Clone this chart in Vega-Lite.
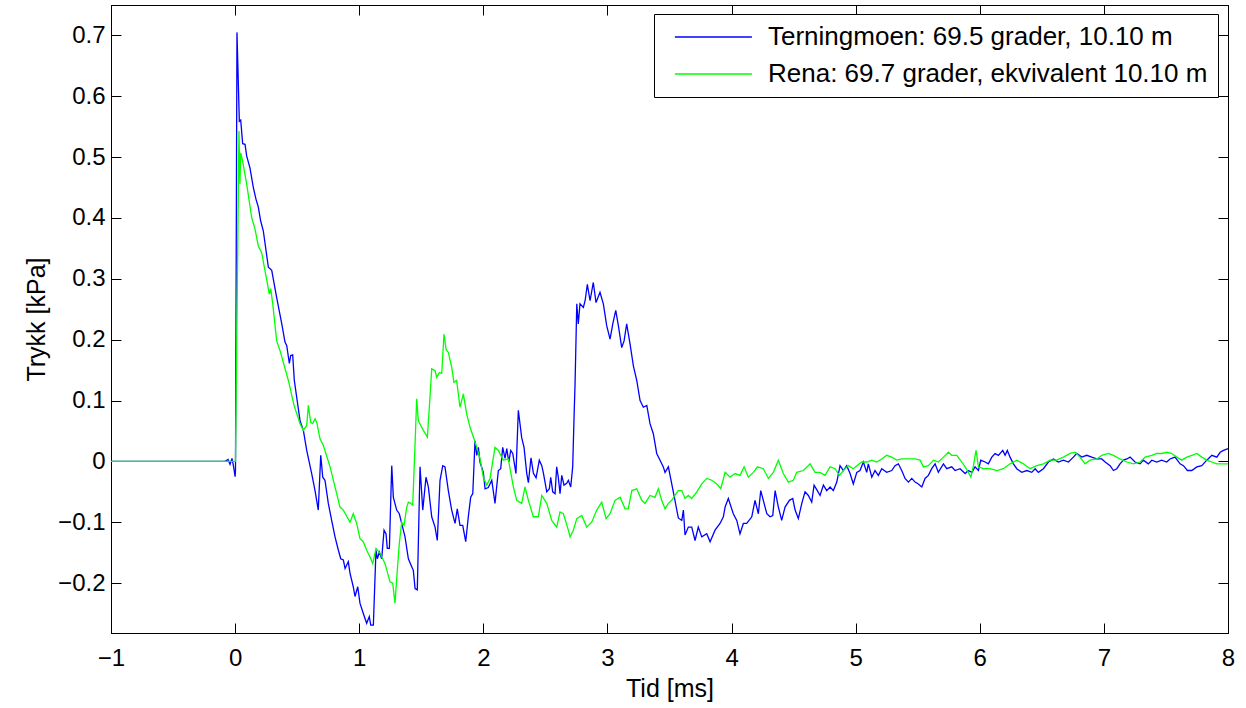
{
"$schema":"https://vega.github.io/schema/vega-lite/v6.json",
"width":1117,"height":628,
"autosize":{"type":"none"},
"padding":{"left":111,"top":5,"right":18,"bottom":75},
"background":"white",
"config":{"view":{"stroke":"black","strokeWidth":1},
"font":"Liberation Sans",
"axis":{"grid":false,"domainColor":"black","tickColor":"black","labelColor":"black","titleColor":"black","labelFont":"Liberation Sans","titleFont":"Liberation Sans","labelFontSize":24,"titleFontSize":25,"titleFontWeight":"normal","tickSize":-10,"domainWidth":1,"tickWidth":1}},
"datasets":{"d":[
{"t":-1,"p":0,"s":"T"},{"t":-0.081,"p":0,"s":"T"},{"t":-0.057,"p":0.003,"s":"T"},{"t":-0.041,"p":-0.005,"s":"T"},{"t":-0.025,"p":0.005,"s":"T"},{"t":-0.013,"p":-0.008,"s":"T"},{"t":0,"p":-0.025,"s":"T"},{"t":0.003,"p":-0.015,"s":"T"},{"t":0.015,"p":0.705,"s":"T"},{"t":0.034,"p":0.559,"s":"T"},{"t":0.045,"p":0.561,"s":"T"},{"t":0.061,"p":0.522,"s":"T"},{"t":0.08,"p":0.521,"s":"T"},{"t":0.093,"p":0.502,"s":"T"},{"t":0.12,"p":0.482,"s":"T"},{"t":0.147,"p":0.45,"s":"T"},{"t":0.168,"p":0.431,"s":"T"},{"t":0.187,"p":0.418,"s":"T"},{"t":0.206,"p":0.395,"s":"T"},{"t":0.227,"p":0.379,"s":"T"},{"t":0.268,"p":0.319,"s":"T"},{"t":0.295,"p":0.314,"s":"T"},{"t":0.335,"p":0.269,"s":"T"},{"t":0.376,"p":0.226,"s":"T"},{"t":0.402,"p":0.196,"s":"T"},{"t":0.416,"p":0.19,"s":"T"},{"t":0.437,"p":0.161,"s":"T"},{"t":0.448,"p":0.174,"s":"T"},{"t":0.464,"p":0.175,"s":"T"},{"t":0.477,"p":0.133,"s":"T"},{"t":0.523,"p":0.067,"s":"T"},{"t":0.55,"p":0.051,"s":"T"},{"t":0.577,"p":0.018,"s":"T"},{"t":0.617,"p":-0.02,"s":"T"},{"t":0.644,"p":-0.048,"s":"T"},{"t":0.67,"p":-0.08,"s":"T"},{"t":0.69,"p":0.01,"s":"T"},{"t":0.706,"p":-0.026,"s":"T"},{"t":0.724,"p":-0.031,"s":"T"},{"t":0.751,"p":-0.069,"s":"T"},{"t":0.778,"p":-0.097,"s":"T"},{"t":0.805,"p":-0.124,"s":"T"},{"t":0.832,"p":-0.146,"s":"T"},{"t":0.851,"p":-0.16,"s":"T"},{"t":0.872,"p":-0.162,"s":"T"},{"t":0.886,"p":-0.176,"s":"T"},{"t":0.912,"p":-0.165,"s":"T"},{"t":0.926,"p":-0.184,"s":"T"},{"t":0.952,"p":-0.206,"s":"T"},{"t":0.966,"p":-0.222,"s":"T"},{"t":0.988,"p":-0.206,"s":"T"},{"t":1.006,"p":-0.233,"s":"T"},{"t":1.033,"p":-0.25,"s":"T"},{"t":1.06,"p":-0.266,"s":"T"},{"t":1.081,"p":-0.255,"s":"T"},{"t":1.093,"p":-0.269,"s":"T"},{"t":1.114,"p":-0.269,"s":"T"},{"t":1.135,"p":-0.146,"s":"T"},{"t":1.146,"p":-0.16,"s":"T"},{"t":1.162,"p":-0.149,"s":"T"},{"t":1.181,"p":-0.16,"s":"T"},{"t":1.2,"p":-0.113,"s":"T"},{"t":1.216,"p":-0.119,"s":"T"},{"t":1.226,"p":-0.143,"s":"T"},{"t":1.243,"p":-0.143,"s":"T"},{"t":1.262,"p":-0.007,"s":"T"},{"t":1.275,"p":-0.059,"s":"T"},{"t":1.302,"p":-0.08,"s":"T"},{"t":1.323,"p":-0.086,"s":"T"},{"t":1.342,"p":-0.102,"s":"T"},{"t":1.369,"p":-0.124,"s":"T"},{"t":1.396,"p":-0.16,"s":"T"},{"t":1.423,"p":-0.173,"s":"T"},{"t":1.436,"p":-0.179,"s":"T"},{"t":1.45,"p":-0.209,"s":"T"},{"t":1.468,"p":-0.211,"s":"T"},{"t":1.49,"p":-0.009,"s":"T"},{"t":1.512,"p":-0.08,"s":"T"},{"t":1.538,"p":-0.026,"s":"T"},{"t":1.557,"p":-0.042,"s":"T"},{"t":1.584,"p":-0.091,"s":"T"},{"t":1.611,"p":-0.108,"s":"T"},{"t":1.629,"p":-0.13,"s":"T"},{"t":1.651,"p":-0.031,"s":"T"},{"t":1.673,"p":-0.007,"s":"T"},{"t":1.691,"p":-0.009,"s":"T"},{"t":1.718,"p":-0.048,"s":"T"},{"t":1.745,"p":-0.08,"s":"T"},{"t":1.772,"p":-0.102,"s":"T"},{"t":1.79,"p":-0.078,"s":"T"},{"t":1.812,"p":-0.105,"s":"T"},{"t":1.834,"p":-0.105,"s":"T"},{"t":1.858,"p":-0.132,"s":"T"},{"t":1.879,"p":-0.091,"s":"T"},{"t":1.898,"p":-0.059,"s":"T"},{"t":1.915,"p":-0.053,"s":"T"},{"t":1.933,"p":0.034,"s":"T"},{"t":1.947,"p":0.01,"s":"T"},{"t":1.96,"p":0.023,"s":"T"},{"t":1.973,"p":-0.001,"s":"T"},{"t":2.0,"p":-0.018,"s":"T"},{"t":2.014,"p":-0.045,"s":"T"},{"t":2.04,"p":-0.043,"s":"T"},{"t":2.068,"p":-0.031,"s":"T"},{"t":2.094,"p":-0.069,"s":"T"},{"t":2.121,"p":-0.015,"s":"T"},{"t":2.14,"p":-0.012,"s":"T"},{"t":2.156,"p":0.023,"s":"T"},{"t":2.175,"p":0.005,"s":"T"},{"t":2.189,"p":0.021,"s":"T"},{"t":2.205,"p":-0.001,"s":"T"},{"t":2.221,"p":0.018,"s":"T"},{"t":2.237,"p":0.013,"s":"T"},{"t":2.263,"p":-0.02,"s":"T"},{"t":2.282,"p":0.084,"s":"T"},{"t":2.309,"p":0.039,"s":"T"},{"t":2.328,"p":0.023,"s":"T"},{"t":2.35,"p":-0.02,"s":"T"},{"t":2.363,"p":-0.035,"s":"T"},{"t":2.384,"p":0.006,"s":"T"},{"t":2.403,"p":-0.019,"s":"T"},{"t":2.425,"p":-0.027,"s":"T"},{"t":2.451,"p":0.002,"s":"T"},{"t":2.471,"p":-0.007,"s":"T"},{"t":2.483,"p":-0.018,"s":"T"},{"t":2.511,"p":-0.05,"s":"T"},{"t":2.532,"p":-0.045,"s":"T"},{"t":2.543,"p":-0.026,"s":"T"},{"t":2.559,"p":-0.05,"s":"T"},{"t":2.578,"p":-0.053,"s":"T"},{"t":2.591,"p":-0.009,"s":"T"},{"t":2.604,"p":-0.026,"s":"T"},{"t":2.618,"p":-0.053,"s":"T"},{"t":2.632,"p":-0.023,"s":"T"},{"t":2.65,"p":-0.039,"s":"T"},{"t":2.672,"p":-0.036,"s":"T"},{"t":2.685,"p":-0.031,"s":"T"},{"t":2.704,"p":-0.042,"s":"T"},{"t":2.72,"p":-0.009,"s":"T"},{"t":2.731,"p":0.073,"s":"T"},{"t":2.739,"p":0.127,"s":"T"},{"t":2.753,"p":0.259,"s":"T"},{"t":2.765,"p":0.226,"s":"T"},{"t":2.779,"p":0.259,"s":"T"},{"t":2.806,"p":0.253,"s":"T"},{"t":2.82,"p":0.264,"s":"T"},{"t":2.838,"p":0.291,"s":"T"},{"t":2.86,"p":0.264,"s":"T"},{"t":2.886,"p":0.294,"s":"T"},{"t":2.908,"p":0.261,"s":"T"},{"t":2.94,"p":0.278,"s":"T"},{"t":2.967,"p":0.259,"s":"T"},{"t":2.994,"p":0.223,"s":"T"},{"t":3.021,"p":0.201,"s":"T"},{"t":3.043,"p":0.226,"s":"T"},{"t":3.067,"p":0.248,"s":"T"},{"t":3.088,"p":0.223,"s":"T"},{"t":3.115,"p":0.187,"s":"T"},{"t":3.134,"p":0.198,"s":"T"},{"t":3.155,"p":0.226,"s":"T"},{"t":3.182,"p":0.193,"s":"T"},{"t":3.209,"p":0.157,"s":"T"},{"t":3.236,"p":0.133,"s":"T"},{"t":3.263,"p":0.1,"s":"T"},{"t":3.289,"p":0.089,"s":"T"},{"t":3.317,"p":0.092,"s":"T"},{"t":3.343,"p":0.062,"s":"T"},{"t":3.37,"p":0.045,"s":"T"},{"t":3.397,"p":0.013,"s":"T"},{"t":3.424,"p":0.002,"s":"T"},{"t":3.45,"p":-0.009,"s":"T"},{"t":3.464,"p":-0.018,"s":"T"},{"t":3.491,"p":-0.009,"s":"T"},{"t":3.518,"p":-0.037,"s":"T"},{"t":3.544,"p":-0.064,"s":"T"},{"t":3.571,"p":-0.093,"s":"T"},{"t":3.599,"p":-0.097,"s":"T"},{"t":3.612,"p":-0.08,"s":"T"},{"t":3.625,"p":-0.121,"s":"T"},{"t":3.652,"p":-0.108,"s":"T"},{"t":3.679,"p":-0.108,"s":"T"},{"t":3.706,"p":-0.13,"s":"T"},{"t":3.732,"p":-0.108,"s":"T"},{"t":3.76,"p":-0.124,"s":"T"},{"t":3.8,"p":-0.119,"s":"T"},{"t":3.827,"p":-0.132,"s":"T"},{"t":3.867,"p":-0.113,"s":"T"},{"t":3.907,"p":-0.102,"s":"T"},{"t":3.934,"p":-0.091,"s":"T"},{"t":3.948,"p":-0.075,"s":"T"},{"t":3.974,"p":-0.061,"s":"T"},{"t":4.014,"p":-0.086,"s":"T"},{"t":4.042,"p":-0.097,"s":"T"},{"t":4.068,"p":-0.119,"s":"T"},{"t":4.095,"p":-0.102,"s":"T"},{"t":4.122,"p":-0.102,"s":"T"},{"t":4.163,"p":-0.091,"s":"T"},{"t":4.189,"p":-0.064,"s":"T"},{"t":4.216,"p":-0.086,"s":"T"},{"t":4.235,"p":-0.048,"s":"T"},{"t":4.256,"p":-0.064,"s":"T"},{"t":4.284,"p":-0.086,"s":"T"},{"t":4.31,"p":-0.091,"s":"T"},{"t":4.332,"p":-0.089,"s":"T"},{"t":4.351,"p":-0.048,"s":"T"},{"t":4.377,"p":-0.075,"s":"T"},{"t":4.404,"p":-0.097,"s":"T"},{"t":4.431,"p":-0.075,"s":"T"},{"t":4.466,"p":-0.064,"s":"T"},{"t":4.493,"p":-0.061,"s":"T"},{"t":4.512,"p":-0.08,"s":"T"},{"t":4.538,"p":-0.094,"s":"T"},{"t":4.566,"p":-0.069,"s":"T"},{"t":4.592,"p":-0.05,"s":"T"},{"t":4.619,"p":-0.056,"s":"T"},{"t":4.646,"p":-0.067,"s":"T"},{"t":4.665,"p":-0.039,"s":"T"},{"t":4.691,"p":-0.048,"s":"T"},{"t":4.713,"p":-0.056,"s":"T"},{"t":4.74,"p":-0.039,"s":"T"},{"t":4.767,"p":-0.048,"s":"T"},{"t":4.794,"p":-0.042,"s":"T"},{"t":4.82,"p":-0.048,"s":"T"},{"t":4.848,"p":-0.034,"s":"T"},{"t":4.874,"p":-0.007,"s":"T"},{"t":4.901,"p":-0.015,"s":"T"},{"t":4.928,"p":-0.007,"s":"T"},{"t":4.955,"p":-0.02,"s":"T"},{"t":4.981,"p":-0.037,"s":"T"},{"t":5.009,"p":-0.018,"s":"T"},{"t":5.035,"p":-0.015,"s":"T"},{"t":5.062,"p":-0.001,"s":"T"},{"t":5.089,"p":-0.018,"s":"T"},{"t":5.102,"p":-0.004,"s":"T"},{"t":5.13,"p":-0.026,"s":"T"},{"t":5.156,"p":-0.015,"s":"T"},{"t":5.183,"p":-0.023,"s":"T"},{"t":5.21,"p":-0.012,"s":"T"},{"t":5.25,"p":-0.018,"s":"T"},{"t":5.291,"p":-0.015,"s":"T"},{"t":5.317,"p":-0.007,"s":"T"},{"t":5.344,"p":-0.004,"s":"T"},{"t":5.371,"p":-0.015,"s":"T"},{"t":5.398,"p":-0.028,"s":"T"},{"t":5.425,"p":-0.034,"s":"T"},{"t":5.452,"p":-0.028,"s":"T"},{"t":5.479,"p":-0.034,"s":"T"},{"t":5.505,"p":-0.037,"s":"T"},{"t":5.533,"p":-0.042,"s":"T"},{"t":5.559,"p":-0.028,"s":"T"},{"t":5.586,"p":-0.023,"s":"T"},{"t":5.613,"p":-0.012,"s":"T"},{"t":5.64,"p":-0.004,"s":"T"},{"t":5.666,"p":-0.018,"s":"T"},{"t":5.707,"p":-0.004,"s":"T"},{"t":5.734,"p":-0.012,"s":"T"},{"t":5.774,"p":-0.009,"s":"T"},{"t":5.801,"p":-0.015,"s":"T"},{"t":5.841,"p":-0.012,"s":"T"},{"t":5.882,"p":-0.02,"s":"T"},{"t":5.908,"p":-0.015,"s":"T"},{"t":5.936,"p":-0.018,"s":"T"},{"t":5.962,"p":-0.009,"s":"T"},{"t":5.989,"p":-0.015,"s":"T"},{"t":6.008,"p":0.002,"s":"T"},{"t":6.043,"p":-0.001,"s":"T"},{"t":6.069,"p":-0.004,"s":"T"},{"t":6.097,"p":0.007,"s":"T"},{"t":6.123,"p":0.013,"s":"T"},{"t":6.15,"p":0.01,"s":"T"},{"t":6.185,"p":0.018,"s":"T"},{"t":6.204,"p":0.01,"s":"T"},{"t":6.222,"p":0.018,"s":"T"},{"t":6.244,"p":0.007,"s":"T"},{"t":6.271,"p":-0.004,"s":"T"},{"t":6.298,"p":-0.012,"s":"T"},{"t":6.338,"p":-0.018,"s":"T"},{"t":6.379,"p":-0.015,"s":"T"},{"t":6.419,"p":-0.018,"s":"T"},{"t":6.446,"p":-0.012,"s":"T"},{"t":6.472,"p":-0.018,"s":"T"},{"t":6.513,"p":-0.012,"s":"T"},{"t":6.553,"p":-0.001,"s":"T"},{"t":6.593,"p":0.004,"s":"T"},{"t":6.633,"p":-0.001,"s":"T"},{"t":6.674,"p":0.002,"s":"T"},{"t":6.714,"p":-0.001,"s":"T"},{"t":6.754,"p":0.007,"s":"T"},{"t":6.781,"p":0.013,"s":"T"},{"t":6.822,"p":0.007,"s":"T"},{"t":6.862,"p":0.01,"s":"T"},{"t":6.902,"p":0.007,"s":"T"},{"t":6.943,"p":0.004,"s":"T"},{"t":6.983,"p":0.004,"s":"T"},{"t":7.01,"p":-0.001,"s":"T"},{"t":7.05,"p":-0.007,"s":"T"},{"t":7.077,"p":-0.015,"s":"T"},{"t":7.104,"p":-0.012,"s":"T"},{"t":7.13,"p":-0.004,"s":"T"},{"t":7.157,"p":0.002,"s":"T"},{"t":7.185,"p":0.004,"s":"T"},{"t":7.211,"p":0.007,"s":"T"},{"t":7.251,"p":-0.001,"s":"T"},{"t":7.292,"p":-0.004,"s":"T"},{"t":7.318,"p":0.002,"s":"T"},{"t":7.358,"p":-0.004,"s":"T"},{"t":7.386,"p":0.002,"s":"T"},{"t":7.426,"p":-0.001,"s":"T"},{"t":7.466,"p":0.002,"s":"T"},{"t":7.506,"p":-0.001,"s":"T"},{"t":7.533,"p":0.004,"s":"T"},{"t":7.573,"p":0.007,"s":"T"},{"t":7.614,"p":-0.004,"s":"T"},{"t":7.641,"p":-0.007,"s":"T"},{"t":7.673,"p":-0.015,"s":"T"},{"t":7.708,"p":-0.015,"s":"T"},{"t":7.749,"p":-0.009,"s":"T"},{"t":7.789,"p":-0.007,"s":"T"},{"t":7.829,"p":0.002,"s":"T"},{"t":7.87,"p":0.01,"s":"T"},{"t":7.91,"p":0.007,"s":"T"},{"t":7.937,"p":0.015,"s":"T"},{"t":7.964,"p":0.018,"s":"T"},{"t":8.0,"p":0.021,"s":"T"},
{"t":-1,"p":0,"s":"R"},{"t":-0.009,"p":0,"s":"R"},{"t":0.003,"p":0,"s":"R"},{"t":0.031,"p":0.543,"s":"R"},{"t":0.039,"p":0.456,"s":"R"},{"t":0.045,"p":0.507,"s":"R"},{"t":0.061,"p":0.493,"s":"R"},{"t":0.093,"p":0.456,"s":"R"},{"t":0.134,"p":0.4,"s":"R"},{"t":0.16,"p":0.382,"s":"R"},{"t":0.187,"p":0.354,"s":"R"},{"t":0.214,"p":0.343,"s":"R"},{"t":0.241,"p":0.313,"s":"R"},{"t":0.276,"p":0.275,"s":"R"},{"t":0.287,"p":0.284,"s":"R"},{"t":0.303,"p":0.259,"s":"R"},{"t":0.335,"p":0.198,"s":"R"},{"t":0.362,"p":0.182,"s":"R"},{"t":0.429,"p":0.133,"s":"R"},{"t":0.475,"p":0.092,"s":"R"},{"t":0.523,"p":0.062,"s":"R"},{"t":0.55,"p":0.051,"s":"R"},{"t":0.577,"p":0.059,"s":"R"},{"t":0.59,"p":0.092,"s":"R"},{"t":0.609,"p":0.064,"s":"R"},{"t":0.625,"p":0.062,"s":"R"},{"t":0.644,"p":0.07,"s":"R"},{"t":0.658,"p":0.064,"s":"R"},{"t":0.684,"p":0.037,"s":"R"},{"t":0.711,"p":0.026,"s":"R"},{"t":0.765,"p":-0.009,"s":"R"},{"t":0.805,"p":-0.042,"s":"R"},{"t":0.845,"p":-0.075,"s":"R"},{"t":0.872,"p":-0.08,"s":"R"},{"t":0.926,"p":-0.1,"s":"R"},{"t":0.952,"p":-0.086,"s":"R"},{"t":0.98,"p":-0.102,"s":"R"},{"t":1.006,"p":-0.127,"s":"R"},{"t":1.033,"p":-0.132,"s":"R"},{"t":1.06,"p":-0.146,"s":"R"},{"t":1.087,"p":-0.157,"s":"R"},{"t":1.109,"p":-0.168,"s":"R"},{"t":1.135,"p":-0.143,"s":"R"},{"t":1.168,"p":-0.151,"s":"R"},{"t":1.208,"p":-0.168,"s":"R"},{"t":1.248,"p":-0.198,"s":"R"},{"t":1.27,"p":-0.2,"s":"R"},{"t":1.288,"p":-0.233,"s":"R"},{"t":1.307,"p":-0.179,"s":"R"},{"t":1.323,"p":-0.135,"s":"R"},{"t":1.342,"p":-0.1,"s":"R"},{"t":1.361,"p":-0.105,"s":"R"},{"t":1.383,"p":-0.075,"s":"R"},{"t":1.396,"p":-0.067,"s":"R"},{"t":1.415,"p":-0.069,"s":"R"},{"t":1.431,"p":-0.072,"s":"R"},{"t":1.45,"p":0.029,"s":"R"},{"t":1.463,"p":0.103,"s":"R"},{"t":1.476,"p":0.067,"s":"R"},{"t":1.496,"p":0.059,"s":"R"},{"t":1.517,"p":0.051,"s":"R"},{"t":1.549,"p":0.04,"s":"R"},{"t":1.57,"p":0.105,"s":"R"},{"t":1.584,"p":0.152,"s":"R"},{"t":1.611,"p":0.149,"s":"R"},{"t":1.625,"p":0.138,"s":"R"},{"t":1.646,"p":0.146,"s":"R"},{"t":1.665,"p":0.145,"s":"R"},{"t":1.683,"p":0.209,"s":"R"},{"t":1.7,"p":0.184,"s":"R"},{"t":1.718,"p":0.179,"s":"R"},{"t":1.745,"p":0.155,"s":"R"},{"t":1.763,"p":0.13,"s":"R"},{"t":1.785,"p":0.133,"s":"R"},{"t":1.812,"p":0.089,"s":"R"},{"t":1.839,"p":0.111,"s":"R"},{"t":1.866,"p":0.078,"s":"R"},{"t":1.893,"p":0.056,"s":"R"},{"t":1.92,"p":0.04,"s":"R"},{"t":1.947,"p":0.023,"s":"R"},{"t":1.973,"p":0.005,"s":"R"},{"t":2.0,"p":-0.026,"s":"R"},{"t":2.027,"p":-0.039,"s":"R"},{"t":2.054,"p":-0.028,"s":"R"},{"t":2.094,"p":0.023,"s":"R"},{"t":2.121,"p":0.018,"s":"R"},{"t":2.161,"p":0.002,"s":"R"},{"t":2.201,"p":0.004,"s":"R"},{"t":2.242,"p":-0.042,"s":"R"},{"t":2.269,"p":-0.064,"s":"R"},{"t":2.309,"p":-0.069,"s":"R"},{"t":2.336,"p":-0.042,"s":"R"},{"t":2.363,"p":-0.064,"s":"R"},{"t":2.403,"p":-0.091,"s":"R"},{"t":2.443,"p":-0.091,"s":"R"},{"t":2.471,"p":-0.056,"s":"R"},{"t":2.511,"p":-0.069,"s":"R"},{"t":2.551,"p":-0.097,"s":"R"},{"t":2.591,"p":-0.108,"s":"R"},{"t":2.618,"p":-0.083,"s":"R"},{"t":2.645,"p":-0.086,"s":"R"},{"t":2.685,"p":-0.113,"s":"R"},{"t":2.699,"p":-0.124,"s":"R"},{"t":2.725,"p":-0.113,"s":"R"},{"t":2.753,"p":-0.094,"s":"R"},{"t":2.793,"p":-0.089,"s":"R"},{"t":2.833,"p":-0.108,"s":"R"},{"t":2.873,"p":-0.1,"s":"R"},{"t":2.914,"p":-0.08,"s":"R"},{"t":2.954,"p":-0.067,"s":"R"},{"t":2.989,"p":-0.094,"s":"R"},{"t":3.021,"p":-0.086,"s":"R"},{"t":3.061,"p":-0.064,"s":"R"},{"t":3.102,"p":-0.059,"s":"R"},{"t":3.142,"p":-0.078,"s":"R"},{"t":3.168,"p":-0.078,"s":"R"},{"t":3.196,"p":-0.048,"s":"R"},{"t":3.236,"p":-0.045,"s":"R"},{"t":3.276,"p":-0.064,"s":"R"},{"t":3.303,"p":-0.069,"s":"R"},{"t":3.343,"p":-0.056,"s":"R"},{"t":3.383,"p":-0.059,"s":"R"},{"t":3.41,"p":-0.045,"s":"R"},{"t":3.437,"p":-0.064,"s":"R"},{"t":3.464,"p":-0.078,"s":"R"},{"t":3.491,"p":-0.069,"s":"R"},{"t":3.518,"p":-0.064,"s":"R"},{"t":3.544,"p":-0.056,"s":"R"},{"t":3.571,"p":-0.048,"s":"R"},{"t":3.599,"p":-0.048,"s":"R"},{"t":3.625,"p":-0.061,"s":"R"},{"t":3.652,"p":-0.056,"s":"R"},{"t":3.679,"p":-0.061,"s":"R"},{"t":3.72,"p":-0.05,"s":"R"},{"t":3.76,"p":-0.037,"s":"R"},{"t":3.8,"p":-0.028,"s":"R"},{"t":3.84,"p":-0.031,"s":"R"},{"t":3.881,"p":-0.037,"s":"R"},{"t":3.913,"p":-0.045,"s":"R"},{"t":3.948,"p":-0.018,"s":"R"},{"t":3.988,"p":-0.026,"s":"R"},{"t":4.028,"p":-0.02,"s":"R"},{"t":4.068,"p":-0.023,"s":"R"},{"t":4.101,"p":-0.009,"s":"R"},{"t":4.135,"p":-0.026,"s":"R"},{"t":4.176,"p":-0.018,"s":"R"},{"t":4.208,"p":-0.009,"s":"R"},{"t":4.256,"p":-0.012,"s":"R"},{"t":4.297,"p":-0.028,"s":"R"},{"t":4.337,"p":-0.018,"s":"R"},{"t":4.377,"p":0.002,"s":"R"},{"t":4.417,"p":-0.02,"s":"R"},{"t":4.458,"p":-0.034,"s":"R"},{"t":4.498,"p":-0.031,"s":"R"},{"t":4.525,"p":-0.018,"s":"R"},{"t":4.579,"p":-0.015,"s":"R"},{"t":4.633,"p":-0.004,"s":"R"},{"t":4.673,"p":-0.018,"s":"R"},{"t":4.713,"p":-0.018,"s":"R"},{"t":4.753,"p":-0.023,"s":"R"},{"t":4.794,"p":-0.009,"s":"R"},{"t":4.834,"p":-0.012,"s":"R"},{"t":4.869,"p":-0.023,"s":"R"},{"t":4.901,"p":-0.015,"s":"R"},{"t":4.941,"p":-0.007,"s":"R"},{"t":4.981,"p":-0.012,"s":"R"},{"t":5.009,"p":-0.007,"s":"R"},{"t":5.049,"p":-0.001,"s":"R"},{"t":5.089,"p":-0.001,"s":"R"},{"t":5.13,"p":0.002,"s":"R"},{"t":5.17,"p":-0.001,"s":"R"},{"t":5.21,"p":0.004,"s":"R"},{"t":5.25,"p":0.01,"s":"R"},{"t":5.291,"p":0.007,"s":"R"},{"t":5.331,"p":0.002,"s":"R"},{"t":5.371,"p":0.004,"s":"R"},{"t":5.425,"p":0.004,"s":"R"},{"t":5.479,"p":0.004,"s":"R"},{"t":5.519,"p":0.002,"s":"R"},{"t":5.546,"p":-0.009,"s":"R"},{"t":5.586,"p":-0.007,"s":"R"},{"t":5.627,"p":0.002,"s":"R"},{"t":5.666,"p":-0.001,"s":"R"},{"t":5.707,"p":0.007,"s":"R"},{"t":5.747,"p":0.015,"s":"R"},{"t":5.774,"p":0.01,"s":"R"},{"t":5.815,"p":0.01,"s":"R"},{"t":5.855,"p":-0.001,"s":"R"},{"t":5.882,"p":-0.009,"s":"R"},{"t":5.908,"p":-0.018,"s":"R"},{"t":5.928,"p":-0.026,"s":"R"},{"t":5.949,"p":-0.007,"s":"R"},{"t":5.97,"p":0.018,"s":"R"},{"t":5.989,"p":-0.009,"s":"R"},{"t":6.029,"p":-0.012,"s":"R"},{"t":6.083,"p":-0.012,"s":"R"},{"t":6.137,"p":-0.015,"s":"R"},{"t":6.19,"p":-0.012,"s":"R"},{"t":6.244,"p":-0.004,"s":"R"},{"t":6.298,"p":0.002,"s":"R"},{"t":6.352,"p":-0.004,"s":"R"},{"t":6.405,"p":-0.012,"s":"R"},{"t":6.459,"p":-0.007,"s":"R"},{"t":6.513,"p":-0.004,"s":"R"},{"t":6.566,"p":0.002,"s":"R"},{"t":6.62,"p":0.002,"s":"R"},{"t":6.674,"p":0.007,"s":"R"},{"t":6.728,"p":0.013,"s":"R"},{"t":6.768,"p":0.015,"s":"R"},{"t":6.808,"p":0.007,"s":"R"},{"t":6.848,"p":-0.004,"s":"R"},{"t":6.889,"p":0.002,"s":"R"},{"t":6.943,"p":0.004,"s":"R"},{"t":6.983,"p":0.01,"s":"R"},{"t":7.036,"p":0.013,"s":"R"},{"t":7.077,"p":0.01,"s":"R"},{"t":7.13,"p":0.004,"s":"R"},{"t":7.185,"p":-0.001,"s":"R"},{"t":7.238,"p":-0.004,"s":"R"},{"t":7.292,"p":-0.001,"s":"R"},{"t":7.332,"p":0.007,"s":"R"},{"t":7.386,"p":0.01,"s":"R"},{"t":7.426,"p":0.013,"s":"R"},{"t":7.466,"p":0.013,"s":"R"},{"t":7.506,"p":0.015,"s":"R"},{"t":7.547,"p":0.013,"s":"R"},{"t":7.587,"p":0.007,"s":"R"},{"t":7.627,"p":0.002,"s":"R"},{"t":7.668,"p":0.007,"s":"R"},{"t":7.708,"p":0.01,"s":"R"},{"t":7.749,"p":0.013,"s":"R"},{"t":7.789,"p":0.007,"s":"R"},{"t":7.829,"p":0.002,"s":"R"},{"t":7.87,"p":-0.001,"s":"R"},{"t":7.91,"p":-0.004,"s":"R"},{"t":7.95,"p":-0.004,"s":"R"},{"t":8.0,"p":-0.004,"s":"R"}
]},
"data":{"name":"d"},
"layer":[
{"mark":{"type":"line","strokeWidth":1.3,"interpolate":"linear"},
"encoding":{
"x":{"field":"t","type":"quantitative","scale":{"domain":[-1,8],"nice":false,"zero":false},
"axis":{"orient":"bottom","title":"Tid [ms]","values":[-1,0,1,2,3,4,5,6,7,8],"labelExpr":"replace(datum.label,'-','−')","labelPadding":23,"titlePadding":6,"labelFlush":false}},
"y":{"field":"p","type":"quantitative","scale":{"domain":[-0.282,0.75],"nice":false,"zero":false},
"axis":{"orient":"left","title":"Trykk [kPa]","values":[-0.2,-0.1,0,0.1,0.2,0.3,0.4,0.5,0.6,0.7],"labelExpr":"datum.value==0?'0':replace(format(datum.value,'.1f'),'-','−')","labelPadding":16,"titlePadding":8,"labelFlush":false}},
"color":{"field":"s","type":"nominal","scale":{"domain":["T","R"],"range":["#0000ff","#00ff00"]},
"legend":{"orient":"none","legendX":543,"legendY":9,"title":null,"strokeColor":"black","fillColor":"white","padding":10,"labelFont":"Liberation Sans","labelFontSize":26,"labelColor":"black","labelLimit":0,"symbolType":"M-0.3,0H10.7","symbolSize":196,"symbolStrokeWidth":1.3,"symbolFillColor":"transparent","rowPadding":11,"labelOffset":78,"labelExpr":"datum.label=='T'?'Terningmoen: 69.5 grader, 10.10 m':'Rena: 69.7 grader, ekvivalent 10.10 m'"}}}},
{"mark":{"type":"line","strokeOpacity":0},
"encoding":{
"x":{"field":"t","type":"quantitative","axis":{"orient":"top","title":null,"labels":false,"values":[-1,0,1,2,3,4,5,6,7,8]}},
"y":{"field":"p","type":"quantitative","axis":{"orient":"right","title":null,"labels":false,"values":[-0.2,-0.1,0,0.1,0.2,0.3,0.4,0.5,0.6,0.7]}}}}
]
}
